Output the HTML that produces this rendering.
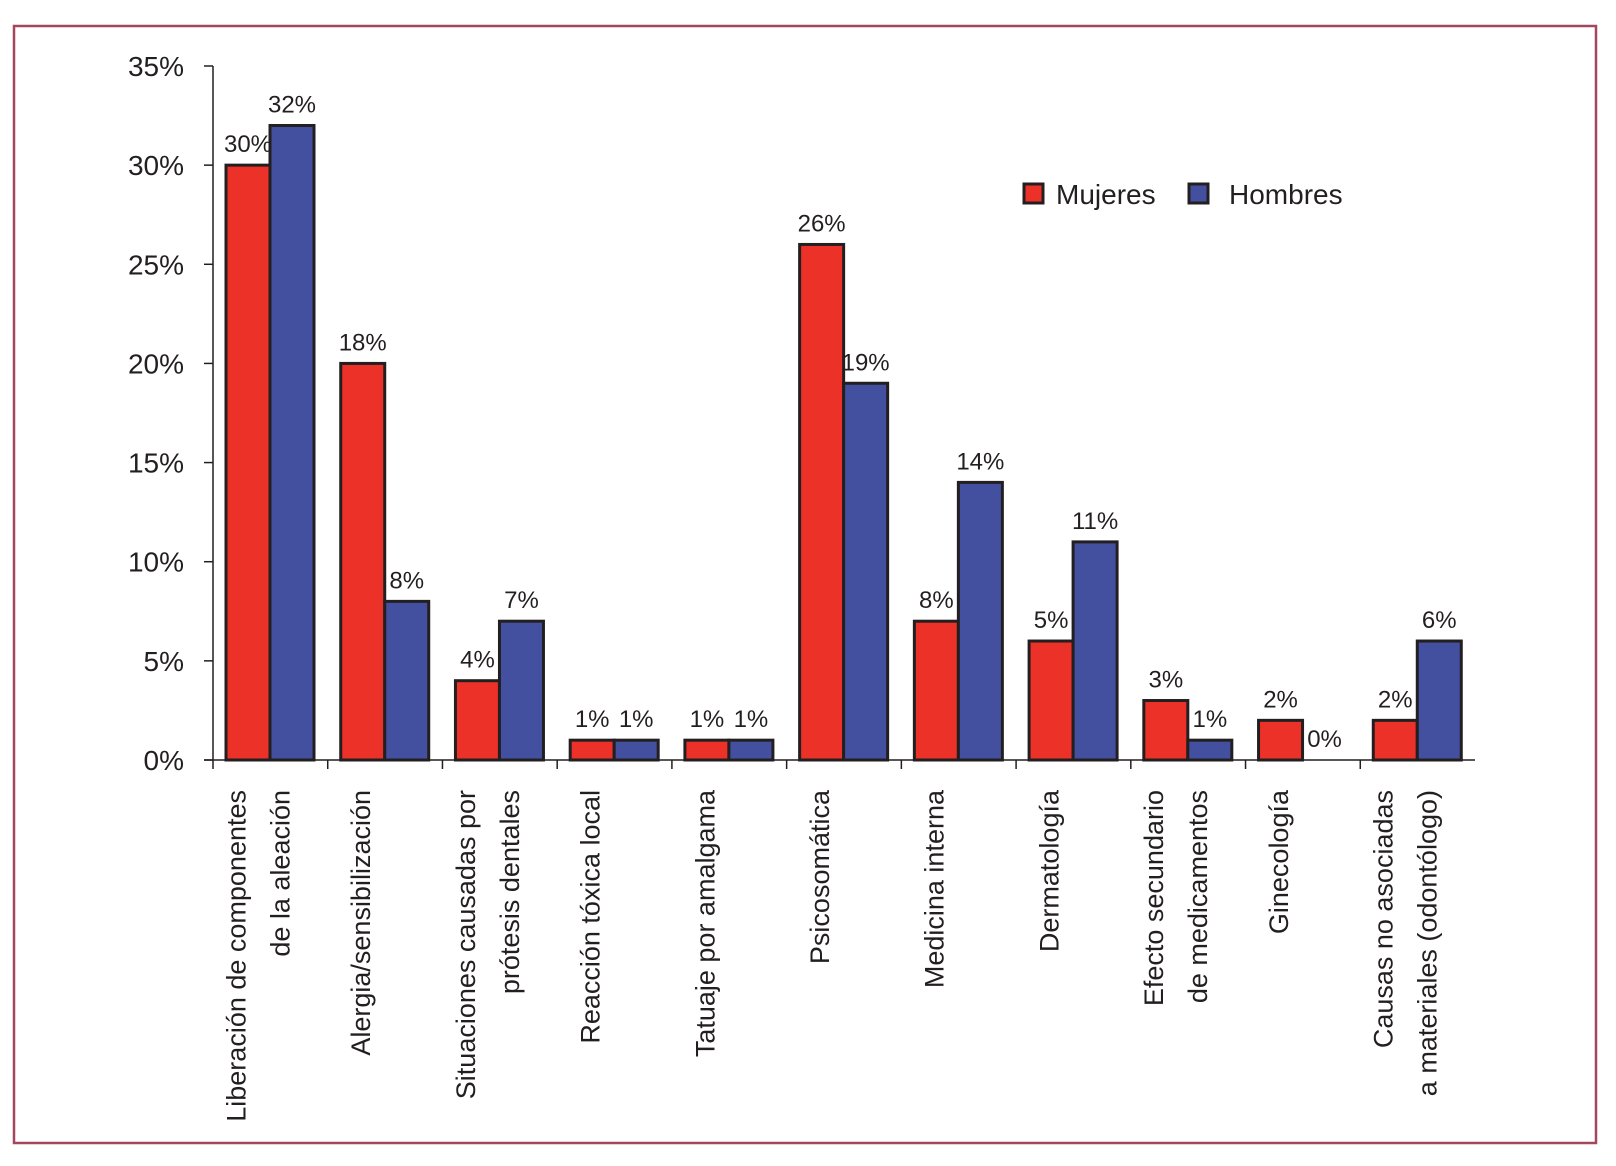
<!DOCTYPE html>
<html><head><meta charset="utf-8"><style>
body{margin:0;background:#fff;}
svg{display:block;font-family:"Liberation Sans",sans-serif;}
</style></head><body>
<svg id="chart" width="1616" height="1166">
<rect x="14" y="26" width="1582" height="1117" fill="none" stroke="#a3475f" stroke-width="2.5"/>
<g id="g"></g>
<g>
<rect x="1024" y="184" width="19" height="19" fill="#ec3129" stroke="#231f20" stroke-width="3"/>
<text x="1056" y="204" font-size="28" fill="#231f20">Mujeres</text>
<rect x="1189" y="184" width="19" height="19" fill="#4350a0" stroke="#231f20" stroke-width="3"/>
<text x="1229" y="204" font-size="28" fill="#231f20">Hombres</text>
</g>
</svg>
<script>
const categories=[["Liberación de componentes","de la aleación"],["Alergia/sensibilización"],["Situaciones causadas por","prótesis dentales"],["Reacción tóxica local"],["Tatuaje por amalgama"],["Psicosomática"],["Medicina interna"],["Dermatología"],["Efecto secundario","de medicamentos"],["Ginecología"],["Causas no asociadas","a materiales (odontólogo)"]];
const mujeres=[30,20,4,1,1,26,7,6,3,2,2];
const hombres=[32,8,7,1,1,19,14,11,1,0,6];
const mujeresLabels=["30%","18%","4%","1%","1%","26%","8%","5%","3%","2%","2%"];
const hombresLabels=["32%","8%","7%","1%","1%","19%","14%","11%","1%","0%","6%"];
const yTicks=[0,5,10,15,20,25,30,35];
const NS="http://www.w3.org/2000/svg";
const g=document.getElementById("g");
const x0=213,x1=1475,y0=760,yTop=66,yMax=35;
const bandW=(x1-x0)/categories.length;
const y=v=>y0-(v/yMax)*(y0-yTop);
const bx=i=>x0+i*bandW;
function el(t,a,txt){const e=document.createElementNS(NS,t);for(const k in a)e.setAttribute(k,a[k]);if(txt!==undefined)e.textContent=txt;g.appendChild(e);return e;}
let e;
e=el("line",{x1:x0,y1:yTop,x2:x0,y2:y0,stroke:"#231f20","stroke-width":1.5});


e=el("line",{x1:x0-9,y1:y0,x2:x1,y2:y0,stroke:"#231f20","stroke-width":1.5});


yTicks.forEach(v=>{
 e=el("line",{x1:x0-9,y1:y(v),x2:x0,y2:y(v),stroke:"#231f20","stroke-width":1.5});
 
 
 e=el("text",{x:184,y:y(v)+10,"font-size":28,"text-anchor":"end",fill:"#231f20"},v+"%");
 
 
});
categories.forEach((c,i)=>{
 const s=bx(i);
 e=el("line",{x1:s,y1:y0,x2:s,y2:y0+9,stroke:"#231f20","stroke-width":1.5});
 
 
 const bw=44,off=13;
 const rx=s+off,hx=s+off+bw;
 e=el("rect",{x:rx,y:y(mujeres[i]),width:bw,height:y0-y(mujeres[i]),fill:"#ec3129",stroke:"#231f20","stroke-width":3});
 
 
 if(hombres[i]>0){
 e=el("rect",{x:hx,y:y(hombres[i]),width:bw,height:y0-y(hombres[i]),fill:"#4350a0",stroke:"#231f20","stroke-width":3});
 
 
 }
 e=el("text",{x:rx+bw/2,y:y(mujeres[i])-13,"font-size":24,"text-anchor":"middle",fill:"#231f20"},mujeresLabels[i]);
 
 
 e=el("text",{x:hx+bw/2,y:y(hombres[i])-13,"font-size":24,"text-anchor":"middle",fill:"#231f20"},hombresLabels[i]);
 
 
 const cx=s+bandW/2;
 const offs=c.length===2?[-34,10]:[-24];
 c.forEach((line,j)=>{
  const lx=cx+offs[j];
  e=el("text",{x:0,y:0,"font-size":27,"text-anchor":"end","dominant-baseline":"central",fill:"#231f20",transform:`translate(${lx},790) rotate(-90)`},line);
  
  
 });
});
</script>
</body></html>
